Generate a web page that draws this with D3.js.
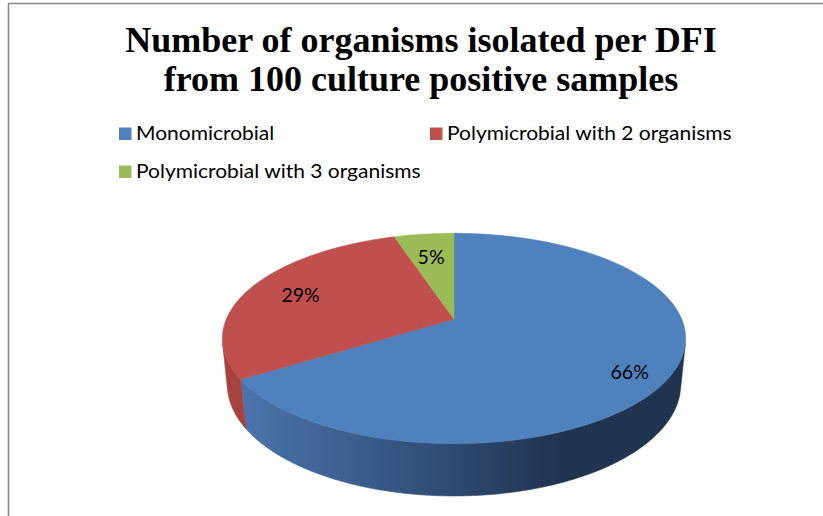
<!DOCTYPE html>
<html>
<head>
<meta charset="utf-8">
<script src="https://cdn.jsdelivr.net/npm/d3@7"></script>
<style>
  html, body { margin: 0; padding: 0; background: #fff; }
  svg { display: block; }
</style>
</head>
<body>
<svg id="chart" width="823" height="516"></svg>
<script>
// ---- data ----
const categories = ["Monomicrobial", "Polymicrobial with 2 organisms", "Polymicrobial with 3 organisms"];
const values = [66, 29, 5];
const percentLabels = ["66%", "29%", "5%"];
const titleLines = ["Number of organisms isolated per DFI", "from 100 culture positive samples"];

// ---- styling ----
const topColors = ["#4F81BD", "#C0504D", "#9BBB59"];
const sideLight = ["#4B76AE", "#A8423F", "#86A34B"];
const sideDark  = ["#20334F", "#5E2221", "#4C5E2E"];
const labelRadius = [0.82, 0.75, 0.73];
const labelLift = [-0.045, 0, -0.01];

const W = 823, H = 516;
const svg = d3.select("#chart");

// frame border
svg.append("path")
  .attr("d", `M8.5,${H + 2} L8.5,3.5 L${W + 2},3.5`)
  .attr("fill", "none").attr("stroke", "#8a8a8a").attr("stroke-width", 1.6);

// title
const title = svg.append("text")
  .attr("x", 421).attr("y", 52)
  .attr("text-anchor", "middle")
  .attr("font-family", "'Liberation Serif', 'Times New Roman', serif")
  .attr("font-weight", "bold")
  .attr("font-size", 36)
  .attr("fill", "#000");
titleLines.forEach((t, i) => {
  title.append("tspan").attr("x", 421).attr("dy", i === 0 ? 0 : 39).text(t);
});

// legend
const legendPos = [[119, 140], [430, 140], [119, 178]];
const leg = svg.append("g");
categories.forEach((c, i) => {
  const [lx, ly] = legendPos[i];
  leg.append("rect").attr("x", lx).attr("y", ly - 12.5).attr("width", 12.5).attr("height", 12.5)
    .attr("fill", topColors[i]);
  leg.append("g").attr("transform", `translate(${lx + 17},${ly}) scale(1.135,1)`)
    .append("text").attr("x", 0).attr("y", 0)
    .attr("font-family", "Lato, 'Open Sans', sans-serif")
    .attr("font-size", 18.5)
    .attr("fill", "#000")
    .text(c);
});

// ---- 3D pie with perspective projection ----
const cx = 454, cy = 319;
const phi = 26.5 * Math.PI / 180;
const cphi = Math.cos(phi), sphi = Math.sin(phi);
const Dcam = 4.837, focal = 1101, thick = 0.2277;

function proj(theta, r, Y) {
  const X = r * Math.sin(theta), Z = -r * Math.cos(theta);
  const d = Dcam - Z * cphi - Y * sphi;
  return [cx + focal * X / d, cy - focal * (Y * cphi - Z * sphi) / d];
}

const pie = d3.pie().sort(null).value(d => d).startAngle(0).endAngle(2 * Math.PI);
const arcs = pie(values);
const line = d3.line();

function samples(a0, a1) {
  const n = Math.max(2, Math.ceil(Math.abs(a1 - a0) / 0.01));
  return d3.range(n + 1).map(i => a0 + (a1 - a0) * i / n);
}

// visible outer wall range
const cosLim = -1 / (Dcam * cphi);
const visA0 = Math.acos(cosLim);               // right silhouette
const visA1 = 2 * Math.PI - Math.acos(cosLim); // left silhouette

const defs = svg.append("defs");
const xLeft = proj(visA1, 1, 0)[0], xRight = proj(visA0, 1, 0)[0];
arcs.forEach((a, i) => {
  const g = defs.append("linearGradient").attr("id", "side" + i)
    .attr("gradientUnits", "userSpaceOnUse")
    .attr("x1", xLeft).attr("x2", xRight).attr("y1", 0).attr("y2", 0);
  g.append("stop").attr("offset", 0.03).attr("stop-color", sideLight[i]);
  g.append("stop").attr("offset", 0.74).attr("stop-color", sideDark[i]);
  g.append("stop").attr("offset", 1).attr("stop-color", sideDark[i]);
});

const pieG = svg.append("g");
// walls
arcs.forEach((a, i) => {
  const s0 = Math.max(a.startAngle, visA0), s1 = Math.min(a.endAngle, visA1);
  if (s1 <= s0) return;
  const ang = samples(s0, s1);
  const pts = ang.map(t => proj(t, 1, 0)).concat(ang.slice().reverse().map(t => proj(t, 1, -thick)));
  pieG.append("path").attr("d", line(pts) + "Z").attr("fill", `url(#side${i})`)
    .attr("stroke", `url(#side${i})`).attr("stroke-width", 0.6);
});
// top faces
arcs.forEach((a, i) => {
  const pts = [proj(0, 0, 0)].concat(samples(a.startAngle, a.endAngle).map(t => proj(t, 1, 0)));
  pieG.append("path").attr("d", line(pts) + "Z").attr("fill", topColors[i])
    .attr("stroke", topColors[i]).attr("stroke-width", 0.6).attr("stroke-linejoin", "round");
});

// labels
arcs.forEach((a, i) => {
  const mid = (a.startAngle + a.endAngle) / 2;
  const [lx, ly] = proj(mid, labelRadius[i], labelLift[i]);
  svg.append("text").attr("x", lx).attr("y", ly)
    .attr("text-anchor", "middle").attr("dominant-baseline", "central")
    .attr("font-family", "Lato, 'Open Sans', sans-serif")
    .attr("font-size", 19.5)
    .attr("fill", "#000")
    .text(percentLabels[i]);
});
</script>
</body>
</html>
